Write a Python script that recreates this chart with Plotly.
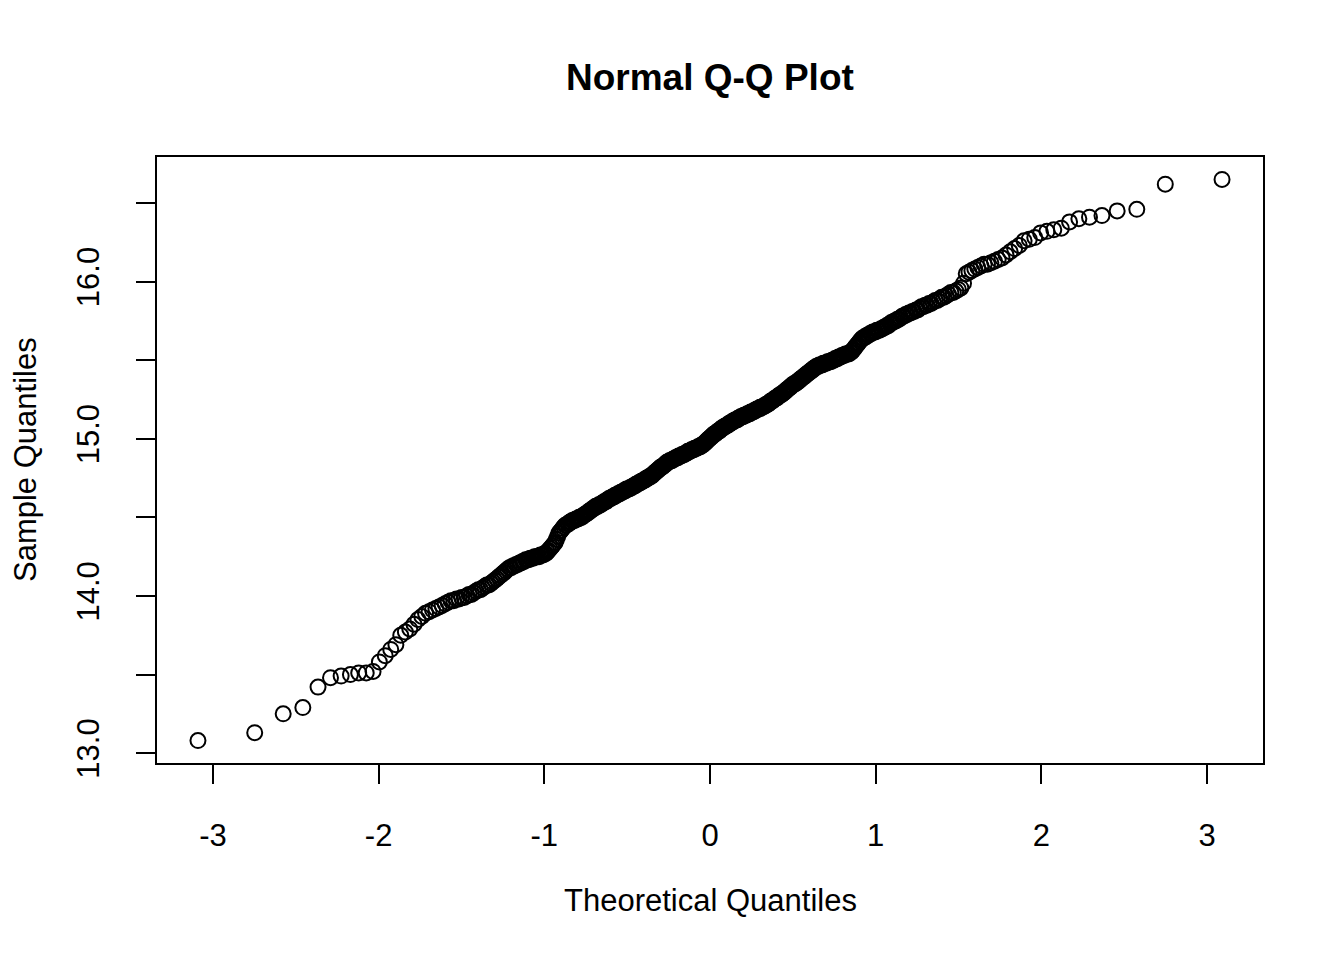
import plotly.graph_objects as go
from statistics import NormalDist

# sorted sample values (500 points, rows of 10)
sample = [
    13.08, 13.13, 13.25, 13.29, 13.42, 13.48, 13.49, 13.50, 13.51, 13.51,
    13.52, 13.58, 13.62, 13.66, 13.69, 13.75, 13.77, 13.79, 13.82, 13.85,
    13.87, 13.89, 13.90, 13.91, 13.92, 13.93, 13.94, 13.95, 13.96, 13.97,
    13.97, 13.98, 13.98, 13.99, 13.99, 14.00, 14.01, 14.01, 14.02, 14.03,
    14.04, 14.04, 14.05, 14.06, 14.07, 14.07, 14.08, 14.09, 14.10, 14.11,
    14.12, 14.13, 14.14, 14.15, 14.16, 14.17, 14.18, 14.18, 14.19, 14.19,
    14.20, 14.20, 14.21, 14.21, 14.22, 14.22, 14.23, 14.23, 14.23, 14.24,
    14.24, 14.24, 14.25, 14.25, 14.25, 14.25, 14.26, 14.26, 14.26, 14.27,
    14.27, 14.28, 14.29, 14.30, 14.31, 14.32, 14.33, 14.34, 14.36, 14.38,
    14.40, 14.41, 14.42, 14.43, 14.44, 14.45, 14.45, 14.46, 14.46, 14.47,
    14.47, 14.48, 14.48, 14.48, 14.49, 14.49, 14.49, 14.50, 14.50, 14.50,
    14.51, 14.51, 14.52, 14.52, 14.53, 14.53, 14.54, 14.54, 14.55, 14.55,
    14.56, 14.56, 14.57, 14.57, 14.57, 14.58, 14.58, 14.58, 14.59, 14.59,
    14.60, 14.60, 14.60, 14.61, 14.61, 14.62, 14.62, 14.62, 14.63, 14.63,
    14.63, 14.64, 14.64, 14.64, 14.65, 14.65, 14.65, 14.66, 14.66, 14.66,
    14.67, 14.67, 14.67, 14.68, 14.68, 14.68, 14.68, 14.69, 14.69, 14.69,
    14.70, 14.70, 14.70, 14.71, 14.71, 14.71, 14.72, 14.72, 14.72, 14.73,
    14.73, 14.73, 14.74, 14.74, 14.74, 14.75, 14.75, 14.75, 14.76, 14.76,
    14.76, 14.77, 14.77, 14.78, 14.78, 14.79, 14.79, 14.80, 14.80, 14.81,
    14.81, 14.82, 14.82, 14.82, 14.83, 14.83, 14.84, 14.84, 14.85, 14.85,
    14.85, 14.86, 14.86, 14.86, 14.86, 14.87, 14.87, 14.87, 14.88, 14.88,
    14.88, 14.88, 14.89, 14.89, 14.89, 14.89, 14.90, 14.90, 14.90, 14.90,
    14.91, 14.91, 14.91, 14.92, 14.92, 14.92, 14.92, 14.93, 14.93, 14.93,
    14.93, 14.94, 14.94, 14.94, 14.94, 14.95, 14.95, 14.95, 14.95, 14.96,
    14.96, 14.96, 14.97, 14.97, 14.98, 14.98, 14.99, 14.99, 15.00, 15.00,
    15.01, 15.01, 15.02, 15.02, 15.03, 15.03, 15.03, 15.04, 15.04, 15.05,
    15.05, 15.05, 15.06, 15.06, 15.07, 15.07, 15.07, 15.08, 15.08, 15.08,
    15.09, 15.09, 15.09, 15.10, 15.10, 15.10, 15.11, 15.11, 15.11, 15.12,
    15.12, 15.12, 15.12, 15.13, 15.13, 15.13, 15.14, 15.14, 15.14, 15.14,
    15.15, 15.15, 15.15, 15.15, 15.16, 15.16, 15.16, 15.16, 15.17, 15.17,
    15.17, 15.17, 15.18, 15.18, 15.18, 15.19, 15.19, 15.19, 15.19, 15.20,
    15.20, 15.20, 15.20, 15.21, 15.21, 15.21, 15.22, 15.22, 15.22, 15.23,
    15.23, 15.24, 15.24, 15.24, 15.25, 15.25, 15.26, 15.26, 15.26, 15.27,
    15.27, 15.28, 15.28, 15.28, 15.29, 15.29, 15.30, 15.30, 15.31, 15.31,
    15.32, 15.32, 15.33, 15.33, 15.34, 15.34, 15.35, 15.35, 15.35, 15.36,
    15.36, 15.37, 15.37, 15.38, 15.38, 15.39, 15.39, 15.40, 15.40, 15.41,
    15.41, 15.42, 15.42, 15.43, 15.43, 15.44, 15.44, 15.45, 15.45, 15.46,
    15.46, 15.46, 15.47, 15.47, 15.47, 15.47, 15.48, 15.48, 15.48, 15.48,
    15.49, 15.49, 15.49, 15.49, 15.50, 15.50, 15.50, 15.51, 15.51, 15.51,
    15.52, 15.52, 15.52, 15.53, 15.53, 15.53, 15.54, 15.54, 15.54, 15.54,
    15.55, 15.55, 15.56, 15.57, 15.58, 15.59, 15.60, 15.61, 15.62, 15.63,
    15.64, 15.64, 15.65, 15.65, 15.66, 15.66, 15.67, 15.67, 15.68, 15.68,
    15.68, 15.69, 15.69, 15.69, 15.70, 15.70, 15.71, 15.71, 15.72, 15.72,
    15.73, 15.74, 15.74, 15.75, 15.75, 15.76, 15.76, 15.77, 15.78, 15.78,
    15.79, 15.79, 15.80, 15.80, 15.81, 15.81, 15.82, 15.82, 15.83, 15.84,
    15.84, 15.85, 15.85, 15.86, 15.86, 15.87, 15.88, 15.88, 15.89, 15.90,
    15.90, 15.91, 15.92, 15.93, 15.93, 15.94, 15.95, 15.96, 15.99, 16.05,
    16.06, 16.07, 16.08, 16.09, 16.10, 16.11, 16.11, 16.12, 16.13, 16.14,
    16.15, 16.17, 16.19, 16.21, 16.23, 16.26, 16.27, 16.28, 16.31, 16.32,
    16.33, 16.34, 16.38, 16.40, 16.41, 16.42, 16.45, 16.46, 16.62, 16.65,
]

# axis ticks as drawn in the reference
x_ticks = [-3, -2, -1, 0, 1, 2, 3]
x_tick_text = ['-3', '-2', '-1', '0', '1', '2', '3']
y_ticks = [13.0, 13.5, 14.0, 14.5, 15.0, 15.5, 16.0, 16.5]
y_tick_text = ['13.0', '', '14.0', '', '15.0', '', '16.0', '']

title = 'Normal Q-Q Plot'
x_label = 'Theoretical Quantiles'
y_label = 'Sample Quantiles'

# theoretical quantiles like R's qqnorm: qnorm(ppoints(n))
n = len(sample)
theo = [NormalDist().inv_cdf((i - 0.5) / n) for i in range(1, n + 1)]

# R pads the data range by 4% on each side
def padded(v):
    lo, hi = min(v), max(v)
    d = (hi - lo) * 0.04
    return [lo - d, hi + d]

font = 'Liberation Sans, Arial, Helvetica, sans-serif'

fig = go.Figure()
fig.add_trace(go.Scatter(x=theo, y=sample, mode='markers',
                         marker=dict(symbol='circle-open', size=15,
                                     color='black',
                                     line=dict(color='black', width=2)),
                         showlegend=False))

axis_style = dict(showline=True, mirror=True, linecolor='black', linewidth=2,
                  showgrid=False, zeroline=False, ticks='outside', ticklen=19,
                  tickwidth=2, tickcolor='black', ticklabelstandoff=25,
                  tickfont=dict(family=font, size=31, color='black'))

fig.update_xaxes(range=padded(theo), tickmode='array', tickvals=x_ticks,
                 ticktext=x_tick_text, **axis_style)
fig.update_yaxes(range=padded(sample), tickmode='array', tickvals=y_ticks,
                 ticktext=y_tick_text, tickangle=-90, **axis_style)

# titles placed like R's title(): main above, labels at line 3
fig.add_annotation(text='<b>' + title + '</b>', xref='paper', yref='paper',
                   x=0.5, y=1, xanchor='center', yanchor='middle',
                   yshift=80, showarrow=False,
                   font=dict(family=font, size=37, color='black'))
fig.add_annotation(text=x_label, xref='paper', yref='paper',
                   x=0.5, y=0, xanchor='center', yanchor='middle',
                   yshift=-137, showarrow=False,
                   font=dict(family=font, size=31, color='black'))
fig.add_annotation(text=y_label, xref='paper', yref='paper',
                   x=0, y=0.5, xanchor='center', yanchor='middle',
                   xshift=-132, textangle=-90, showarrow=False,
                   font=dict(family=font, size=31, color='black'))

# page body adds 8px, so the figure is 8px smaller than the window
fig.update_layout(width=1336, height=952,
                  margin=dict(l=149, r=81, t=149, b=197),
                  paper_bgcolor='white', plot_bgcolor='white')

fig.write_html('out.html')
